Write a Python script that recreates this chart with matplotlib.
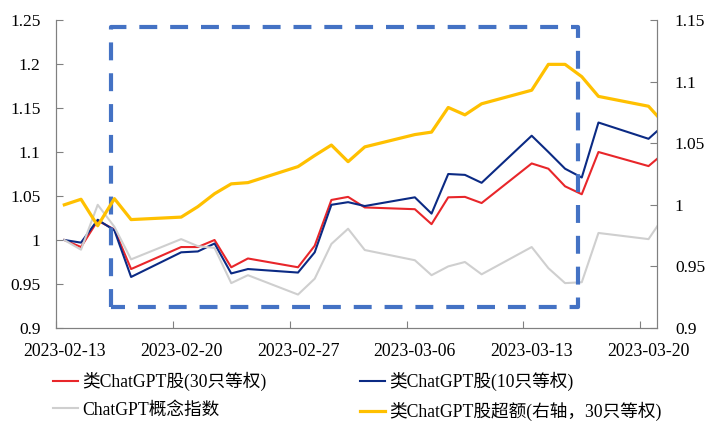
import matplotlib.pyplot as plt
import matplotlib.dates as mdates
import pandas as pd

plt.rcParams['font.family'] = ['Liberation Serif', 'Noto Sans CJK SC', 'DejaVu Sans']

dates = ['2023-02-13', '2023-02-14', '2023-02-15', '2023-02-16', '2023-02-17',
         '2023-02-20', '2023-02-21', '2023-02-22', '2023-02-23', '2023-02-24',
         '2023-02-27', '2023-02-28', '2023-03-01', '2023-03-02', '2023-03-03',
         '2023-03-06', '2023-03-07', '2023-03-08', '2023-03-09', '2023-03-10',
         '2023-03-13', '2023-03-14', '2023-03-15', '2023-03-16', '2023-03-17',
         '2023-03-20', '2023-03-21']

red = [1.000, 0.992, 1.022, 1.012, 0.967, 0.992, 0.992, 1.000, 0.969, 0.979,
       0.969, 0.9935, 1.0455, 1.049, 1.037, 1.035, 1.018, 1.0485, 1.049, 1.042,
       1.087, 1.081, 1.061, 1.052, 1.100, 1.084, 1.100]
blue = [1.000, 0.997, 1.023, 1.011, 0.958, 0.986, 0.987, 0.996, 0.962, 0.967,
        0.963, 0.986, 1.040, 1.043, 1.0386, 1.0485, 1.030, 1.075, 1.074, 1.065,
        1.1185, 1.100, 1.081, 1.071, 1.1335, 1.115, 1.132]
gray = [1.000, 0.989, 1.040, 1.015, 0.978, 1.001, 0.993, 0.991, 0.951, 0.960,
        0.938, 0.956, 0.9955, 1.0128, 0.9886, 0.977, 0.960, 0.970, 0.975, 0.961,
        0.992, 0.968, 0.951, 0.952, 1.008, 1.001, 1.029]
yellow = [1.000, 1.0045, 0.983, 1.005, 0.988, 0.990, 0.9985, 1.009, 1.017, 1.018,
          1.031, 1.040, 1.0485, 1.035, 1.047, 1.057, 1.059, 1.079, 1.073, 1.082,
          1.093, 1.114, 1.114, 1.104, 1.088, 1.080, 1.065]

labels = ['类ChatGPT股(30只等权)', '类ChatGPT股(10只等权)',
          'ChatGPT概念指数', '类ChatGPT股超额(右轴，30只等权)']
tick_dates = ['2023-02-13', '2023-02-20', '2023-02-27', '2023-03-06',
              '2023-03-13', '2023-03-20']
box_x = ['2023-02-16 07:00', '2023-03-16 07:00']
box_y = [0.924, 1.2415]

half_day = pd.Timedelta(hours=12)
x = pd.to_datetime(dates) + half_day

fig = plt.figure(figsize=(7.14, 4.23), dpi=100)
ax = fig.add_axes([0.0784, 0.2246, 0.8416, 0.7281])
ax2 = ax.twinx()

l1, = ax.plot(x, red, color='#E8262A', lw=1.5, label=labels[0])
l2, = ax.plot(x, blue, color='#0B2A84', lw=1.5, label=labels[1])
l3, = ax.plot(x, gray, color='#CFCFCF', lw=1.5, label=labels[2])
l4, = ax2.plot(x, yellow, color='#FFC000', lw=2.3, label=labels[3])

bx = pd.to_datetime(box_x)
ax.plot([bx[0], bx[0], bx[1], bx[1], bx[0]],
        [box_y[0], box_y[1], box_y[1], box_y[0], box_y[0]],
        color='#4472C4', lw=3, ls=(0, (4.3, 3.1)), zorder=5)

ax.set_xlim(pd.Timestamp('2023-02-13'), pd.Timestamp('2023-03-21'))
ax.set_ylim(0.9, 1.25)
ax2.set_ylim(0.9, 1.15)
ax.set_yticks([0.9, 0.95, 1.0, 1.05, 1.1, 1.15, 1.2, 1.25])
ax.set_yticklabels(['0.9', '0.95', '1', '1.05', '1.1', '1.15', '1.2', '1.25'])
ax2.set_yticks([0.9, 0.95, 1.0, 1.05, 1.1, 1.15])
ax2.set_yticklabels(['0.9', '0.95', '1', '1.05', '1.1', '1.15'])

# tick marks on day boundaries, labels centred on the day
ticks = pd.to_datetime(tick_dates)
ax.set_xticks(ticks)
ax.set_xticklabels([])
ax.set_xticks(ticks + half_day, minor=True)
ax.xaxis.set_minor_formatter(mdates.DateFormatter('%Y-%m-%d'))
ax.tick_params(axis='x', which='minor', length=0, labelsize=12.8, pad=10.5)

for a in (ax, ax2):
    for s in a.spines.values():
        s.set_color('#808080')
    a.spines['top'].set_visible(False)
    a.tick_params(which='major', direction='in', length=5, color='#808080', labelsize=12.5)
ax.tick_params(axis='y', pad=11)
ax2.tick_params(axis='y', pad=13)

fig.legend([l1, l3, l2, l4], [labels[0], labels[2], labels[1], labels[3]],
           ncol=2, frameon=False, loc='upper left', bbox_to_anchor=(0.0742, 0.121),
           fontsize=12.7, handlelength=1.42, handletextpad=0.23, columnspacing=5.3,
           labelspacing=0.6, borderaxespad=0, borderpad=0)

plt.savefig('out.png', dpi=100)
plt.close()
